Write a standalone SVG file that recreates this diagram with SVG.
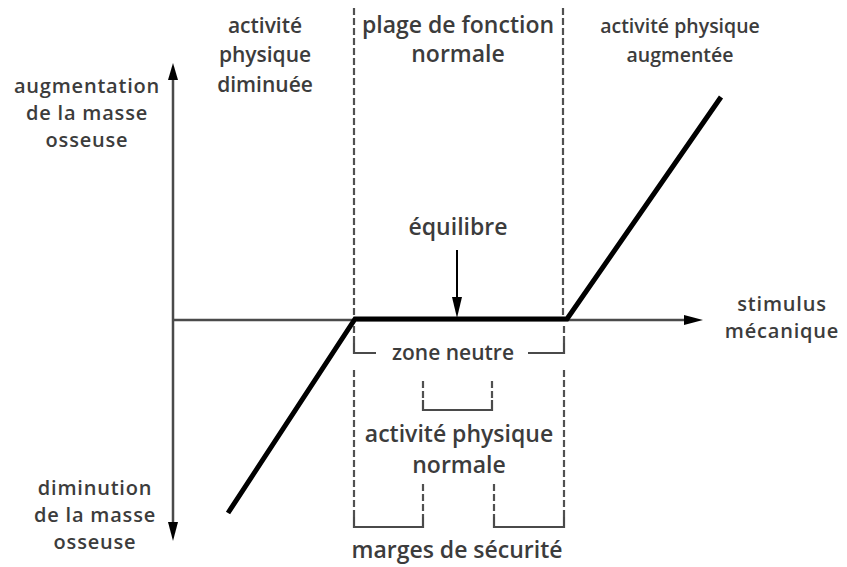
<svg xmlns="http://www.w3.org/2000/svg" width="847" height="567" viewBox="0 0 847 567">
<style>
text{font-family:"Open Sans","Liberation Sans",sans-serif;font-size:23px;font-weight:600;fill:#3c3c3c;text-anchor:middle}
.s21{font-size:21px}
.s20{font-size:19.5px}
.ax{font-size:20px;letter-spacing:0.8px}
.axis{stroke:#4a4a4a;stroke-width:2.5;fill:none}
.curve{stroke:#000;stroke-width:5;fill:none;stroke-linejoin:miter}
.dash{stroke:#505050;stroke-width:2.2;stroke-dasharray:7 3;fill:none}
.br{stroke:#4a4a4a;stroke-width:2.2;fill:none}
.head{fill:#000}
</style>
<rect width="847" height="567" fill="#fff"/>
<g id="connectors">
<line class="axis" x1="173" y1="76" x2="173" y2="526"/>
<polygon class="head" points="173,63 168,80 178,80"/>
<polygon class="head" points="173,541 168,522 178,522"/>
<line class="axis" x1="173" y1="320" x2="688" y2="320"/>
<polygon class="head" points="703,320 684,315 684,325"/>
<polyline class="curve" points="228,513 355,319 567,319 721,97"/>
<line x1="457" y1="250" x2="457" y2="300" stroke="#000" stroke-width="2"/>
<polygon class="head" points="457,318 452,297 462,297"/>
<line class="dash" x1="354" y1="8" x2="354" y2="316"/>
<line class="dash" x1="563" y1="8" x2="563" y2="316"/>
<line class="dash" x1="354" y1="326" x2="354" y2="343"/>
<line class="dash" x1="564" y1="326" x2="564" y2="343"/>
<path class="br" d="M354,343 V353 H376 M528,353 H564 V343"/>
<line class="dash" x1="423" y1="381" x2="423" y2="400"/>
<line class="dash" x1="492" y1="381" x2="492" y2="400"/>
<path class="br" d="M423,400 V410 H492 V400"/>
<line class="dash" x1="354" y1="370" x2="354" y2="517"/>
<line class="dash" x1="564" y1="370" x2="564" y2="517"/>
<line class="dash" x1="423" y1="484" x2="423" y2="517"/>
<line class="dash" x1="494" y1="484" x2="494" y2="517"/>
<path class="br" d="M354,517 V527 H423 V517 M494,517 V527 H564 V517"/>
</g>
<g id="label-diminuee">
<text class="s21" x="265" y="33">activité</text>
<text class="s21" x="265" y="62">physique</text>
<text class="s21" x="265" y="92">diminuée</text>
</g>
<g id="label-plage">
<text x="458" y="33">plage de fonction</text>
<text x="458" y="62">normale</text>
</g>
<g id="label-augmentee">
<text class="s20" x="680" y="33">activité physique</text>
<text class="s20" x="680" y="62">augmentée</text>
</g>
<g id="label-augmentation">
<text class="ax" x="87" y="93">augmentation</text>
<text class="ax" x="87" y="120">de la masse</text>
<text class="ax" x="87" y="147">osseuse</text>
</g>
<g id="label-diminution">
<text class="ax" x="95" y="495">diminution</text>
<text class="ax" x="95" y="522">de la masse</text>
<text class="ax" x="95" y="549">osseuse</text>
</g>
<g id="label-stimulus">
<text class="ax" x="782" y="311">stimulus</text>
<text class="ax" x="782" y="338">mécanique</text>
</g>
<g id="label-equilibre">
<text x="458" y="235">équilibre</text>
</g>
<g id="label-zone">
<text class="s21" x="453" y="360">zone neutre</text>
</g>
<g id="label-normale">
<text x="459" y="442">activité physique</text>
<text x="459" y="473">normale</text>
</g>
<g id="label-marges">
<text x="457" y="558">marges de sécurité</text>
</g>
</svg>
